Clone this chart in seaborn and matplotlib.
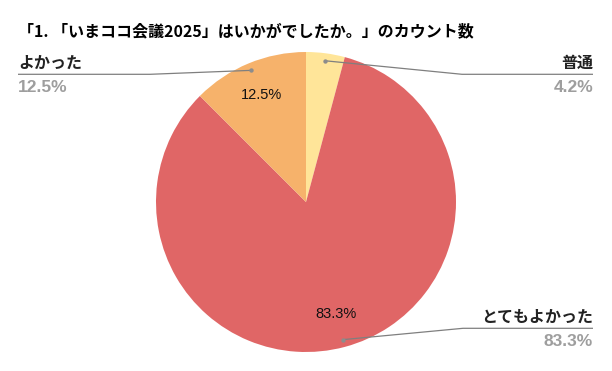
import numpy as np
import seaborn as sns
import matplotlib.pyplot as plt

# chart data
title = "「1. 「いまココ会議2025」はいかがでしたか。」のカウント数"
labels = ["普通", "とてもよかった", "よかった"]
counts = [1, 20, 3]
colors = ["#FFE599", "#E06666", "#F6B26B"]

sns.set_theme(style="white")
plt.rcParams['font.family'] = ['Noto Sans CJK JP', 'DejaVu Sans']

W, H = 612, 371
fig = plt.figure(figsize=(W / 100, H / 100), dpi=100)
ax = fig.add_axes([0, 0, 1, 1])

cx, cy, r = 306, H - 202, 150
palette = sns.color_palette(colors)
total = sum(counts)

wedges, texts, autotexts = ax.pie(
    counts, colors=palette, startangle=90, counterclock=False,
    center=(cx, cy), radius=r,
    autopct=lambda p: f"{p:.1f}%" if p > 5 else "",
    pctdistance=0.77,
    wedgeprops=dict(linewidth=0),
    textprops=dict(family="Liberation Sans", fontsize=10.5, color="#111111"),
)

# label layout: (text x, line y, elbow x, align)
layout = {
    "普通": (593, H - 74.3, 462, "right"),
    "とてもよかった": (593, H - 328.3, 463, "right"),
    "よかった": (18, H - 74.3, 150, "left"),
}

for w, lab, c in zip(wedges, labels, counts):
    mid = np.deg2rad((w.theta1 + w.theta2) / 2)
    px = cx + 0.95 * r * np.cos(mid)
    py = cy + 0.95 * r * np.sin(mid)
    tx, ly, ex, ha = layout[lab]
    ax.plot([px, ex, tx], [py, ly, ly], color="#7f7f7f", lw=0.9,
            solid_capstyle="butt")
    ax.scatter([px], [py], s=10, color="#8c8c8c", zorder=5, linewidths=0)
    ax.text(tx, ly + 11, lab, ha=ha, va="center", fontsize=11.5,
            fontweight="bold", color="#222222")
    ax.text(tx, ly - 13.5, f"{c / total * 100:.1f}%", ha=ha, va="center",
            family="Liberation Sans", fontsize=12.5, fontweight="bold",
            color="#9e9e9e")

ax.text(18, H - 31.5, title, ha="left", va="center", fontsize=11.5,
        fontweight="bold", color="#000000")

ax.set_xlim(0, W)
ax.set_ylim(0, H)
ax.set_aspect("equal")
ax.axis("off")

fig.savefig("out.png", dpi=100)
